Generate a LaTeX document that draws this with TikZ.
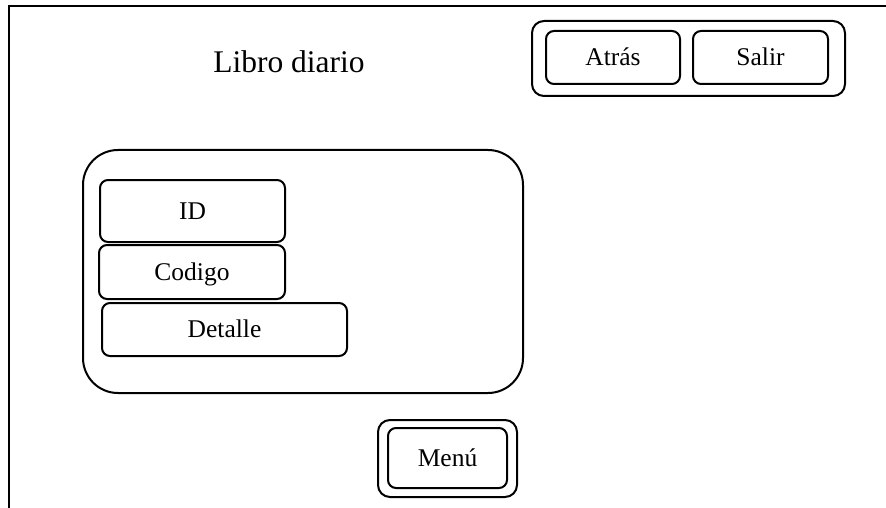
\documentclass[tikz,border=0pt]{standalone}
\usepackage{fontspec}
\setmainfont{Liberation Serif}
\begin{document}
\begin{tikzpicture}[x=1pt,y=-1pt,
  frameline/.style={line width=2.8pt},
  btn/.style={draw, line width=2pt, rounded corners=8pt, inner sep=0pt,
    font=\fontsize{25.5}{30}\selectfont, text height=16.8pt, text depth=0pt},
  grp/.style={draw, line width=2pt, rounded corners=12pt, inner sep=0pt},
  panel/.style={draw, line width=2pt, rounded corners=35pt, inner sep=0pt},
  title/.style={inner sep=0pt, font=\fontsize{31.5}{36}\selectfont, text height=20.5pt, text depth=0pt}]
\useasboundingbox (0,0) rectangle (886,508);
% frame
\coordinate (fbl) at (9,508);
\coordinate (ftl) at (9,6);
\coordinate (ftr) at (886,6);
\draw[frameline] (fbl) -- (ftl) -- (ftr);
% title
\node[title] (titulo) at (289,62) {Libro diario};
% top-right button group
\node[grp, minimum width=313pt, minimum height=75pt] (grupo) at (688.5,58.5) {};
\node[btn, minimum width=134pt, minimum height=53pt] (atras) at (613,57.5) {Atrás};
\node[btn, minimum width=135pt, minimum height=53pt] (salir) at (760.5,57.5) {Salir};
% panel
\node[panel, minimum width=440pt, minimum height=243pt] (panel) at (303,271.5) {};
\node[btn, minimum width=185pt, minimum height=62pt] (id) at (192.5,211) {ID};
\node[btn, minimum width=186pt, minimum height=54pt] (codigo) at (192,272) {Codigo};
\node[btn, minimum width=245pt, minimum height=53pt] (detalle) at (224.5,329.5) {Detalle};
% menu
\node[grp, minimum width=139pt, minimum height=77pt] (menuout) at (447.5,458.5) {};
\node[btn, minimum width=119pt, minimum height=60pt] (menu) at (447.5,458) {Menú};
\end{tikzpicture}
\end{document}
